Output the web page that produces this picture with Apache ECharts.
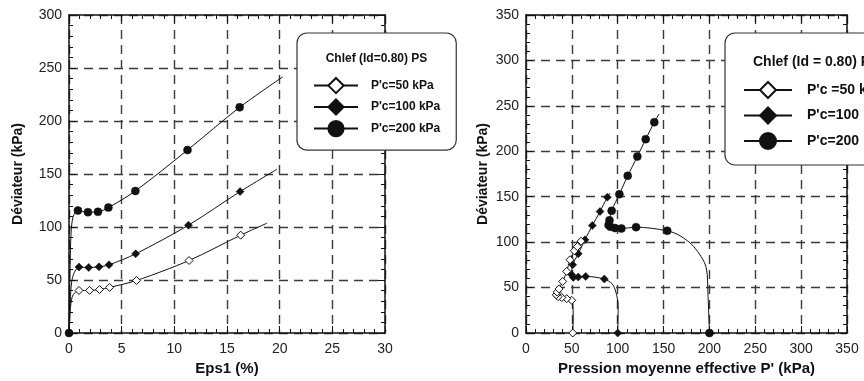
<!DOCTYPE html>
<html>
<head>
<meta charset="utf-8">
<script src="https://cdn.jsdelivr.net/npm/echarts@6/dist/echarts.min.js"></script>
<style>
  html, body { margin: 0; padding: 0; background: #fff; }
  #chart { width: 864px; height: 381px; }
</style>
</head>
<body>
<div id="chart"></div>
<script>
// ---- Axis ticks ----
const epsTicks = [0, 5, 10, 15, 20, 25, 30];
const devTicksLeft = [0, 50, 100, 150, 200, 250, 300];
const pTicks = [0, 50, 100, 150, 200, 250, 300, 350];
const devTicksRight = [0, 50, 100, 150, 200, 250, 300, 350];

// ---- Left panel: deviator vs axial strain ----
// marked = 1 where a test point is plotted, 0 where only the fitted curve passes
const eps50 = [0, 0.12, 0.3, 0.55, 0.95, 1.95, 2.9, 3.85, 6.4, 11.4, 16.3, 18.8];
const q50 = [0, 22, 34, 38, 40.1, 40.2, 41, 43, 49.5, 68.4, 92.3, 103.6];
const mark50 = [0, 0, 0, 0, 1, 1, 1, 1, 1, 1, 1, 0];

const eps100 = [0, 0.12, 0.25, 0.5, 0.95, 1.87, 2.85, 3.8, 6.33, 11.34, 16.24, 19.75];
const q100 = [0, 30, 48, 57, 62.2, 61.8, 62.4, 64.3, 74.7, 101.7, 133.4, 154.5];
const mark100 = [0, 0, 0, 0, 1, 1, 1, 1, 1, 1, 1, 0];

const eps200 = [0, 0.1, 0.2, 0.4, 0.85, 1.8, 2.75, 3.74, 6.3, 11.25, 16.2, 20.3];
const q200 = [0, 60, 95, 110, 115.5, 114, 114.3, 118.3, 134, 172.6, 212.9, 241.7];
const mark200 = [1, 0, 0, 0, 1, 1, 1, 1, 1, 1, 1, 0];

// ---- Right panel: stress paths q vs p' ----
const pPath50 = [51, 51.5, 51, 49.8, 44.4, 39, 35, 33, 34, 36, 40, 44.4, 48, 52.7, 56, 60, 62];
const qPath50 = [0, 18, 32, 36, 37.8, 39, 40, 42, 45, 48.5, 56.7, 67.8, 80.6, 90.5, 95, 101, 104];
const markPath50 = [1, 0, 0, 1, 1, 1, 1, 1, 1, 1, 1, 1, 1, 1, 1, 1, 0];

const pPath100 = [100, 100.5, 98, 94, 85.4, 65.1, 57, 51.6, 49.8, 50.9, 57, 64.3, 72.3, 80.7, 88.7, 91.6];
const qPath100 = [0, 30, 45, 54, 59.4, 62.3, 61.6, 61.2, 64, 75, 87.2, 102.6, 118.3, 133.7, 149.5, 154];
const markPath100 = [1, 0, 0, 0, 1, 1, 1, 1, 1, 1, 1, 1, 1, 1, 1, 0];

const pPath200 = [200, 198.5, 196.5, 183, 168, 154, 120, 104, 97, 92, 90, 91, 93.4, 101.8, 110.9, 121.4, 130.5, 139.9, 145];
const qPath200 = [0, 40, 72, 95, 107, 112.5, 116.5, 115, 115.5, 117, 119, 124, 134.5, 152.8, 173, 194.2, 213.3, 232, 241];
const markPath200 = [1, 0, 0, 0, 0, 1, 1, 1, 1, 1, 1, 1, 1, 1, 1, 1, 1, 1, 0];

const namesLeft = ["P'c=50 kPa", "P'c=100 kPa", "P'c=200 kPa"];
const namesRight = ["P'c =50 kPa", "P'c=100 kPa", "P'c=200 kPa"];
const legendTitleLeft = "Chlef (Id=0.80) PS";
const legendTitleRight = "Chlef (Id = 0.80) PS";

const FONT = "'Liberation Sans', Arial, Helvetica, sans-serif";
const INK = '#111';

function points(xs, ys, marks) {
  return xs.map((x, i) => marks[i] ? [x, ys[i]] : { value: [x, ys[i]], symbol: 'none' });
}

function axisPair(ticks, gridIndex, isX, name, nameGap) {
  const base = {
    type: 'value',
    gridIndex: gridIndex,
    min: ticks[0],
    max: ticks[ticks.length - 1],
    interval: ticks[1] - ticks[0],
    axisLine: { show: true, onZero: false, lineStyle: { color: INK, width: 1.5 } },
    axisTick: { show: true, inside: true, length: 7, lineStyle: { color: INK, width: 1 } },
    minorTick: { show: true, splitNumber: 5, length: 4, lineStyle: { color: INK, width: 1 } },
    minorSplitLine: { show: false }
  };
  const main = Object.assign({}, base, {
    position: isX ? 'bottom' : 'left',
    name: name,
    nameLocation: 'middle',
    nameGap: nameGap,
    nameTextStyle: { fontFamily: FONT, fontWeight: 'bold', fontSize: isX ? 15 : 14, color: INK },
    axisLabel: { fontFamily: FONT, fontSize: 14, color: '#222', margin: isX ? 9 : 7 },
    splitLine: { show: true, lineStyle: { color: '#3a3a3a', width: 1.4, type: [9, 6] } }
  });
  const mirror = Object.assign({}, base, {
    position: isX ? 'top' : 'right',
    axisLabel: { show: false },
    splitLine: { show: false }
  });
  return [main, mirror];
}

const openDiamond = { color: '#fff', borderColor: INK, borderWidth: 1 };
const filled = { color: INK, borderColor: INK, borderWidth: 0.5 };

function curve(name, data, xi, yi, symbol, size, style, z) {
  return {
    type: 'line',
    name: name,
    xAxisIndex: xi,
    yAxisIndex: yi,
    data: data,
    smooth: 0.3,
    symbol: symbol,
    symbolSize: size,
    showSymbol: true,
    showAllSymbol: true,
    lineStyle: { color: INK, width: 1 },
    itemStyle: style,
    emphasis: { disabled: true },
    z: z
  };
}

const xLeft = axisPair(epsTicks, 0, true, 'Eps1 (%)', 26);
const yLeft = axisPair(devTicksLeft, 0, false, 'Déviateur (kPa)', 44);
const xRight = axisPair(pTicks, 1, true, "Pression moyenne effective P' (kPa)", 26);
const yRight = axisPair(devTicksRight, 1, false, 'Déviateur (kPa)', 36);

const option = {
  animation: false,
  backgroundColor: '#fff',
  grid: [
    { left: 69, top: 15, width: 316, height: 318 },
    { left: 526, top: 15, width: 321, height: 318 }
  ],
  xAxis: [xLeft[0], xLeft[1], xRight[0], xRight[1]],
  yAxis: [yLeft[0], yLeft[1], yRight[0], yRight[1]],
  legend: [
    {
      data: namesLeft,
      orient: 'vertical',
      left: 297, top: 33,
      padding: [44, 16, 13, 16],
      itemWidth: 44, itemHeight: 19, itemGap: 4.3,
      textStyle: { fontFamily: FONT, fontWeight: 'bold', fontSize: 12, color: INK, padding: [0, 0, 0, 8] },
      backgroundColor: '#fff',
      borderColor: '#333', borderWidth: 1.2, borderRadius: 10,
      selectedMode: false,
      z: 20
    },
    {
      data: namesRight,
      orient: 'vertical',
      left: 725, top: 33,
      padding: [48, 16, 15, 18],
      itemWidth: 48, itemHeight: 20, itemGap: 7.5,
      textStyle: { fontFamily: FONT, fontWeight: 'bold', fontSize: 14, color: INK, padding: [0, 0, 0, 10] },
      backgroundColor: '#fff',
      borderColor: '#333', borderWidth: 1.2, borderRadius: 10,
      selectedMode: false,
      z: 20
    }
  ],
  graphic: [
    {
      type: 'text', z: 100, x: 376.5, y: 58.5,
      style: { text: legendTitleLeft, fontFamily: FONT, fontWeight: 'bold', fontSize: 12, fill: INK, align: 'center', verticalAlign: 'middle' }
    },
    {
      type: 'text', z: 100, x: 753, y: 62,
      style: { text: legendTitleRight, fontFamily: FONT, fontWeight: 'bold', fontSize: 14, fill: INK, align: 'left', verticalAlign: 'middle' }
    }
  ],
  series: [
    curve(namesLeft[0], points(eps50, q50, mark50), 0, 0, 'diamond', 8, openDiamond, 5),
    curve(namesLeft[1], points(eps100, q100, mark100), 0, 0, 'diamond', 8, filled, 4),
    curve(namesLeft[2], points(eps200, q200, mark200), 0, 0, 'circle', 8, filled, 3),
    curve(namesRight[0], points(pPath50, qPath50, markPath50), 2, 2, 'diamond', 8, openDiamond, 5),
    curve(namesRight[1], points(pPath100, qPath100, markPath100), 2, 2, 'diamond', 8, filled, 4),
    curve(namesRight[2], points(pPath200, qPath200, markPath200), 2, 2, 'circle', 8, filled, 3)
  ]
};

const chart = echarts.init(document.getElementById('chart'), null, { renderer: 'canvas' });
chart.setOption(option);
</script>
</body>
</html>
